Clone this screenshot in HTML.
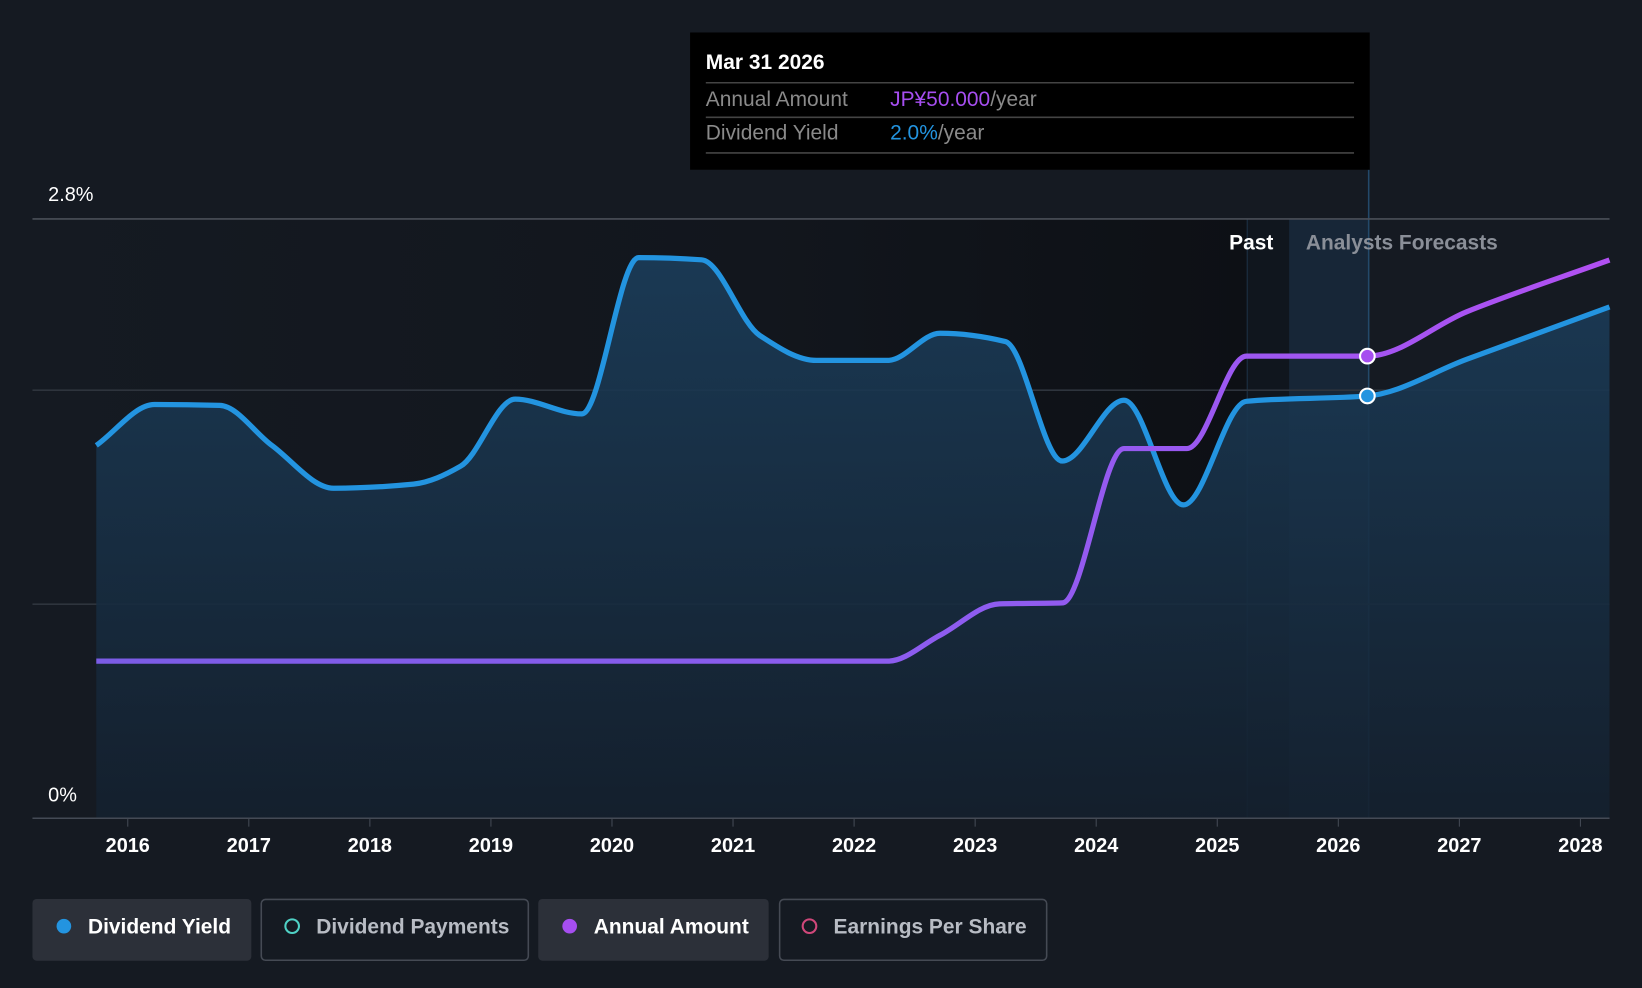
<!DOCTYPE html>
<html><head><meta charset="utf-8"><style>
html,body{margin:0;padding:0;background:#151a22;}
svg{display:block;font-family:"Liberation Sans",sans-serif;}
</style></head><body>
<svg width="1642" height="988" viewBox="0 0 1568 943" preserveAspectRatio="none" id="chart">
<defs>
<linearGradient id="bgPast" x1="0" x2="1" y1="0" y2="0">
<stop offset="0" stop-color="#151a22"/><stop offset="0.6" stop-color="#12161d"/><stop offset="1" stop-color="#0d1015"/></linearGradient>
<linearGradient id="areaFill" x1="0" x2="0" y1="0" y2="1">
<stop offset="0" stop-color="#1b3d5a"/><stop offset="1" stop-color="#14202e"/></linearGradient>
<linearGradient id="purpleStroke" x1="0" x2="1" y1="0" y2="0">
<stop offset="0" stop-color="#7b5ce6"/><stop offset="0.6" stop-color="#8f5cf0"/><stop offset="1" stop-color="#b150f2"/></linearGradient>
</defs>
<rect x="0" y="0" width="1568" height="943" fill="#151a22"/>
<rect x="31" y="209" width="1160" height="572" fill="url(#bgPast)"/>
<rect x="1191" y="209" width="40" height="572" fill="#10161e"/>
<rect x="1231" y="209" width="76" height="572" fill="#172637"/>
<line x1="1191" y1="209" x2="1191" y2="781" stroke="#1d3246"/>
<line x1="1307" y1="162" x2="1307" y2="781" stroke="#23496a" stroke-width="1.5"/>
<g id="grid"></g>
<path id="area" fill="url(#areaFill)" opacity="0.9"/>
<path id="yieldLine" fill="none" stroke="#2394e0" stroke-width="5" stroke-linejoin="round"/>
<path id="amountLine" fill="none" stroke="url(#purpleStroke)" stroke-width="5" stroke-linejoin="round"/>
<g id="marks"></g>
<line x1="31" y1="781" x2="1537" y2="781" stroke="#444a55" stroke-width="1.5"/>
<g id="xticks"></g>
<text x="46" y="192" fill="#ffffff" font-size="19">2.8%</text>
<text x="46" y="765" fill="#ffffff" font-size="19">0%</text>
<text x="1216" y="238" fill="#ffffff" font-size="20" font-weight="bold" text-anchor="end">Past</text>
<text x="1247" y="238" fill="#8a8f98" font-size="20" font-weight="bold">Analysts Forecasts</text>
<g>
<rect x="659" y="31" width="649" height="131" fill="#000000"/>
<text x="674" y="66" fill="#ffffff" font-size="20" font-weight="bold">Mar 31 2026</text>
<line x1="674" y1="79" x2="1293" y2="79" stroke="#444" stroke-width="1.5"/>
<text x="674" y="101" fill="#8a8a8a" font-size="20">Annual Amount</text>
<text x="850" y="101" font-size="20"><tspan fill="#a64ef0">JP¥50.000</tspan><tspan fill="#8a8a8a">/year</tspan></text>
<line x1="674" y1="112" x2="1293" y2="112" stroke="#444" stroke-width="1.5"/>
<text x="674" y="133" fill="#8a8a8a" font-size="20">Dividend Yield</text>
<text x="850" y="133" font-size="20"><tspan fill="#2394e0">2.0%</tspan><tspan fill="#8a8a8a">/year</tspan></text>
<line x1="674" y1="146" x2="1293" y2="146" stroke="#444" stroke-width="1.5"/>
</g>
<g>
<g>
<rect x="31" y="858" width="209" height="59" rx="4" fill="#2c3039"/>
<circle cx="61" cy="884" r="7" fill="#2394e0"/>
<text x="84" y="891" fill="#ffffff" font-size="20" font-weight="bold">Dividend Yield</text></g>
<g>
<rect x="249.5" y="858.5" width="255" height="58" rx="4" fill="none" stroke="#454a54" stroke-width="1.5"/>
<circle cx="279" cy="884" r="6.5" fill="none" stroke="#4fd1c5" stroke-width="2"/>
<text x="302" y="891" fill="#b8bcc4" font-size="20" font-weight="bold">Dividend Payments</text></g>
<g>
<rect x="514" y="858" width="220" height="59" rx="4" fill="#2c3039"/>
<circle cx="544" cy="884" r="7" fill="#a64ef0"/>
<text x="567" y="891" fill="#ffffff" font-size="20" font-weight="bold">Annual Amount</text></g>
<g>
<rect x="744.5" y="858.5" width="255" height="58" rx="4" fill="none" stroke="#454a54" stroke-width="1.5"/>
<circle cx="773" cy="884" r="6.5" fill="none" stroke="#d0477a" stroke-width="2"/>
<text x="796" y="891" fill="#b8bcc4" font-size="20" font-weight="bold">Earnings Per Share</text></g>
</g>
</svg>
<script>
const yieldYears=[2015.74,2016.22,2016.76,2017.19,2017.70,2018.36,2018.75,2019.20,2019.75,2020.22,2020.74,2021.22,2021.69,2022.28,2022.71,2023.25,2023.72,2024.23,2024.72,2025.24,2026.24,2027.06,2028.24];
const yieldValues=[1.742,1.933,1.929,1.742,1.542,1.561,1.645,1.958,1.889,2.619,2.609,2.256,2.139,2.139,2.266,2.227,1.669,1.953,1.464,1.948,1.973,2.144,2.389];
const amountYears=[2015.74,2022.28,2022.71,2023.2,2023.72,2024.23,2024.75,2025.24,2026.24,2027.06,2028.24];
const amountValues=[17,17,19.8,23.2,23.3,40,40,50,50,54.8,60.4];
const tickYears=[2016,2017,2018,2019,2020,2021,2022,2023,2024,2025,2026,2027,2028];
const gridValues=[1.0,2.0,2.8];
const highlightYear=2026.24;
const NS="http://www.w3.org/2000/svg";
const xS=y=>122+(y-2016)*115.6;
const yS=p=>781-p*204.3;
const aS=a=>yS(a*2.159/50);
function smooth(p){const n=p.length;const s=[],t=[];
for(let i=0;i<n-1;i++)s.push((p[i+1][1]-p[i][1])/(p[i+1][0]-p[i][0]));
for(let i=0;i<n;i++){if(i===0)t.push(s[0]);else if(i===n-1)t.push(s[n-2]);
else{const a=s[i-1],b=s[i];if(a*b<=0)t.push(0);else{const h0=p[i][0]-p[i-1][0],h1=p[i+1][0]-p[i][0];t.push(3*(h0+h1)/((2*h1+h0)/a+(h1+2*h0)/b));}}}
let d="M"+p[0][0]+","+p[0][1];
for(let i=0;i<n-1;i++){const dx=(p[i+1][0]-p[i][0])/3;
d+=" C"+(p[i][0]+dx)+","+(p[i][1]+t[i]*dx)+" "+(p[i+1][0]-dx)+","+(p[i+1][1]-t[i+1]*dx)+" "+p[i+1][0]+","+p[i+1][1];}
return d;}
const yp=yieldYears.map((t,i)=>[xS(t),yS(yieldValues[i])]);
const ap=amountYears.map((t,i)=>[xS(t),aS(amountValues[i])]);
const yd=smooth(yp);
document.getElementById('yieldLine').setAttribute('d',yd);
document.getElementById('area').setAttribute('d',yd+" L"+yp[yp.length-1][0]+",781 L"+yp[0][0]+",781 Z");
document.getElementById('amountLine').setAttribute('d',smooth(ap));
const g=document.getElementById('grid');
gridValues.forEach(v=>{const l=document.createElementNS(NS,'line');


l.setAttribute('x1',31);l.setAttribute('x2',1537);l.setAttribute('y1',yS(v));l.setAttribute('y2',yS(v));
l.setAttribute('stroke',v===2.8?'#4a4f58':'#2e343d');l.setAttribute('stroke-width',1.5);g.appendChild(l);});
const xt=document.getElementById('xticks');
tickYears.forEach(t=>{const l=document.createElementNS(NS,'line');


l.setAttribute('x1',xS(t));l.setAttribute('x2',xS(t));l.setAttribute('y1',781);l.setAttribute('y2',789);l.setAttribute('stroke','#444a55');xt.appendChild(l);
const tx=document.createElementNS(NS,'text');


tx.setAttribute('x',xS(t));tx.setAttribute('y',813);tx.setAttribute('fill','#ffffff');tx.setAttribute('font-size','19');tx.setAttribute('font-weight','bold');tx.setAttribute('text-anchor','middle');tx.textContent=t;xt.appendChild(tx);});
function interp(xs,vs,t){for(let i=1;i<xs.length;i++){if(t<=xs[i]){const f=(t-xs[i-1])/(xs[i]-xs[i-1]);return vs[i-1]+f*(vs[i]-vs[i-1]);}}return vs[vs.length-1];}
const m=document.getElementById('marks');
[[aS(interp(amountYears,amountValues,highlightYear)),'#a64ef0','amount-marker'],[yS(interp(yieldYears,yieldValues,highlightYear)),'#2394e0','yield-marker']].forEach(([cy,c,n])=>{const ci=document.createElementNS(NS,'circle');


ci.setAttribute('cx',xS(highlightYear));ci.setAttribute('cy',cy);ci.setAttribute('r',7);ci.setAttribute('fill',c);ci.setAttribute('stroke','#fff');ci.setAttribute('stroke-width',2);m.appendChild(ci);});
</script>
</body></html>
